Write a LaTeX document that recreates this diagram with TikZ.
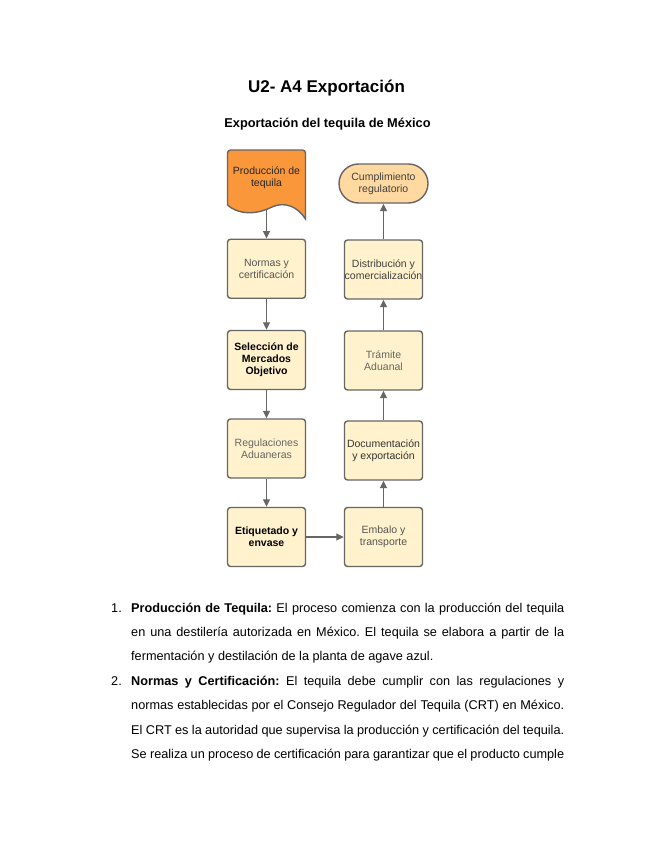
\documentclass[tikz,border=0pt]{standalone}
\usepackage{fontspec}
\setmainfont{Liberation Sans}
\usetikzlibrary{arrows.meta}
\definecolor{cream}{HTML}{FFF2CC}
\definecolor{orangefill}{HTML}{F9973A}
\definecolor{lightorange}{HTML}{FFD9A0}
\definecolor{edgegray}{HTML}{666666}
\definecolor{txtgray}{HTML}{555555}
\frenchspacing
\begin{document}
\begin{tikzpicture}[x=1pt,y=-1pt,
  box/.style={draw=edgegray, line width=1.4pt, fill=cream, rounded corners=3pt,
    minimum width=78pt, minimum height=59pt, inner sep=0pt, align=center,
    font=\fontsize{10.5}{12}\selectfont},
  flow/.style={draw=edgegray, line width=1.3pt, -{Triangle[length=7.5pt,width=7pt]}},
  bodyline/.style={anchor=base west, inner sep=0pt, font=\fontsize{12.7}{24.4}\selectfont},
  numlabel/.style={anchor=base west, inner sep=0pt, font=\fontsize{12.7}{24.4}\selectfont},
]
\useasboundingbox[fill=white] (0,0) rectangle (655,848);

% titles
\node[anchor=base, inner sep=0pt, font=\fontsize{17}{20}\selectfont\bfseries] (title) at (326.5,93) {U2- A4 Exportación};
\node[anchor=base, inner sep=0pt, font=\fontsize{12.8}{15}\selectfont\bfseries] (subtitle) at (327.5,128) {Exportación del tequila de México};

% production (document shape)
\draw[draw=edgegray, line width=1.4pt, fill=orangefill]
  (227.5,205) -- (227.5,153) arc[start angle=180, end angle=270, radius=3] -- (302.5,150)
  arc[start angle=270, end angle=360, radius=3] -- (305.5,219)
  .. controls (298,207) and (285,201) .. (272,207)
  .. controls (258,214) and (240,216) .. cycle;
\node[inner sep=0pt, align=center, text=black!85, font=\fontsize{10.5}{12}\selectfont] (prod) at (266.5,178) {Producción de\\tequila};
\coordinate (prodbot) at (266.5,209.5);

% left column
\node[box, text=txtgray] (normas) at (266.5,268.75) {Normas y\\certificación};
\node[box, font=\fontsize{10.5}{12}\selectfont\bfseries] (seleccion) at (266.5,360) {Selección de\\Mercados\\Objetivo};
\node[box, text=edgegray] (regulaciones) at (266.5,448.5) {Regulaciones\\Aduaneras};
\node[box, font=\fontsize{10.5}{12}\selectfont\bfseries] (etiquetado) at (266.5,537) {Etiquetado y\\envase};

% right column
\node[box, text=txtgray] (embalo) at (383.5,537) {Embalo y\\transporte};
\node[box, text=black!80] (documentacion) at (383.5,450.5) {Documentación\\y exportación};
\node[box, text=edgegray] (tramite) at (383.5,360.5) {Trámite\\Aduanal};
\node[box, text=black!75] (distribucion) at (383.5,269.5) {Distribución y\\comercialización};
\node[draw=edgegray, line width=1.4pt, fill=lightorange, rounded corners=19.5pt,
  minimum width=89pt, minimum height=39pt, inner sep=0pt, align=center, text=black!75,
  font=\fontsize{10.5}{12}\selectfont] (cumplimiento) at (383.5,183.5) {Cumplimiento\\regulatorio};

% connectors
\draw[flow] (prodbot) -- (normas.north);
\draw[flow] (normas) -- (seleccion);
\draw[flow] (seleccion) -- (regulaciones);
\draw[flow] (regulaciones) -- (etiquetado);
\draw[flow] (etiquetado) -- (embalo);
\draw[flow] (embalo) -- (documentacion);
\draw[flow] (documentacion) -- (tramite);
\draw[flow] (tramite) -- (distribucion);
\draw[flow] (distribucion) -- (cumplimiento);

% body text
\node[numlabel] (n1) at (111,612) {1.};
\node[bodyline] (l1) at (131,612) {\makebox[433pt][s]{\textbf{Producción de Tequila:} El proceso comienza con la producción del tequila}};
\node[bodyline] (l2) at (131,636.4) {\makebox[433pt][s]{en una destilería autorizada en México. El tequila se elabora a partir de la}};
\node[bodyline] (l3) at (131,660.8) {fermentación y destilación de la planta de agave azul.};
\node[numlabel] (n2) at (111,685.2) {2.};
\node[bodyline] (l4) at (131,685.2) {\makebox[433pt][s]{\textbf{Normas y Certificación:} El tequila debe cumplir con las regulaciones y}};
\node[bodyline] (l5) at (131,709.6) {\makebox[433pt][s]{normas establecidas por el Consejo Regulador del Tequila (CRT) en México.}};
\node[bodyline] (l6) at (131,734) {\makebox[433pt][s]{El CRT es la autoridad que supervisa la producción y certificación del tequila.}};
\node[bodyline] (l7) at (131,758.4) {\makebox[433pt][s]{Se realiza un proceso de certificación para garantizar que el producto cumple}};
\end{tikzpicture}
\end{document}
